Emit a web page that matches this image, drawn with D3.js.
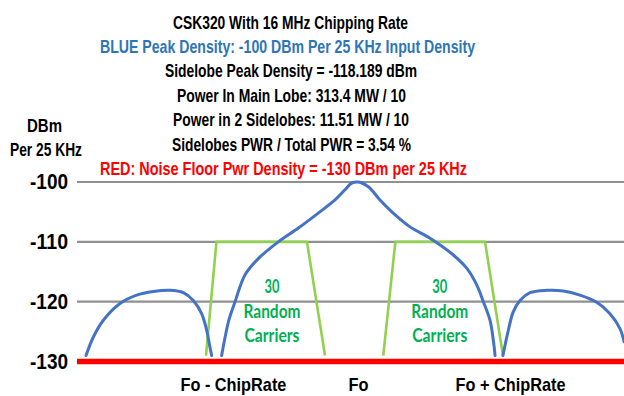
<!DOCTYPE html>
<html><head><meta charset="utf-8">
<script src="https://cdn.jsdelivr.net/npm/d3@7"></script>
<style>
html,body{margin:0;padding:0;background:#fff;}
svg{display:block;}
</style></head>
<body>
<svg id="chart" width="624" height="396"></svg>
<script>
// ---------- DATA ----------
const titleLines = [
  "CSK320 With 16 MHz Chipping Rate",
  "BLUE Peak Density: -100 DBm Per 25 KHz Input Density",
  "Sidelobe Peak Density = -118.189 dBm",
  "Power In Main Lobe: 313.4 MW / 10",
  "Power in 2 Sidelobes: 11.51 MW / 10",
  "Sidelobes PWR / Total PWR = 3.54 %",
  "RED: Noise Floor Pwr Density = -130 DBm per 25 KHz"
];
const yAxisTitle = ["DBm", "Per 25 KHz"];
const yTicks = [-100, -110, -120, -130];
const noiseFloor = -130;
// x in units of chip rate relative to Fo
const xTickValues = [-0.887, 0, 1.078];
const xTickLabels = ["Fo - ChipRate", "Fo", "Fo + ChipRate"];

const leftSidelobeX = [-1.929,-1.877,-1.806,-1.688,-1.570,-1.452,-1.333,-1.239,-1.168,-1.109,-1.073,-1.050,-1.038];
const leftSidelobeY = [-129.0,-125.9,-123.1,-120.3,-118.9,-118.3,-118.1,-118.5,-119.8,-122.0,-124.8,-127.6,-129.0];
const mainLobeX = [-0.967,-0.943,-0.915,-0.872,-0.801,-0.707,-0.565,-0.423,-0.282,-0.163,-0.092,-0.045,0.002,0.073,0.156,0.250,0.369,0.511,0.676,0.771,0.842,0.889,0.936,0.960,0.972];
const mainLobeY = [-129.0,-126.0,-123.0,-120.0,-115.5,-112.8,-110.0,-107.7,-105.2,-103.0,-101.3,-100.2,-100.0,-100.8,-103.0,-105.2,-107.5,-109.4,-112.2,-114.4,-117.2,-120.0,-123.1,-126.5,-129.0];
const rightSidelobeX = [1.028,1.066,1.101,1.149,1.220,1.338,1.456,1.574,1.693,1.787,1.858,1.887];
const rightSidelobeY = [-129.0,-124.8,-121.7,-119.8,-118.5,-118.1,-118.2,-118.9,-120.1,-122.0,-124.5,-126.7];

const carrierBandsX = [[-1.078,-1.004,-0.362,-0.234],[0.179,0.265,0.901,1.028]];
const carrierBandsY = [-129.0,-110,-110,-129.0];
const carrierLabelX = [-0.610, 0.580];
const carrierLabelLines = ["30", "Random", "Carriers"];

// ---------- LAYOUT ----------
const svg = d3.select("#chart");
const plotLeft = 77, plotRight = 624;
const x = d3.scaleLinear().domain([0, 1]).range([358, 499]);
const y = d3.scaleLinear().domain([-130, -100]).range([361.5, 182]);

const narrow = "'Liberation Sans Narrow','Liberation Sans',Arial,sans-serif";

// Titles
const titleStyle = [
  {fill:"#000", w:235, cx:290.5},
  {fill:"#2E75B6", w:375, cx:287.5},
  {fill:"#000", w:252, cx:291},
  {fill:"#000", w:229, cx:291.5},
  {fill:"#000", w:236, cx:291},
  {fill:"#000", w:239, cx:291.5},
  {fill:"#FF0000", w:367, cx:283.5}
];
svg.append("g").selectAll("text").data(titleLines).join("text")
  .attr("x", (d,i)=>titleStyle[i].cx)
  .attr("y", (d,i)=>28.5 + i*24.45)
  .attr("text-anchor","middle")
  .attr("font-family", narrow)
  .attr("font-weight","bold")
  .attr("font-size", 19)
  .attr("fill", (d,i)=>titleStyle[i].fill)
  .attr("textLength", (d,i)=>titleStyle[i].w)
  .attr("lengthAdjust","spacingAndGlyphs")
  .text(d=>d);

// Y axis title
const yTitleStyle = [{cx:44.5,w:35,y:131.5},{cx:46,w:72,y:155.5}];
svg.append("g").selectAll("text").data(yAxisTitle).join("text")
  .attr("x",(d,i)=>yTitleStyle[i].cx)
  .attr("y",(d,i)=>yTitleStyle[i].y)
  .attr("text-anchor","middle")
  .attr("font-family", narrow)
  .attr("font-weight","bold")
  .attr("font-size",19)
  .attr("textLength",(d,i)=>yTitleStyle[i].w)
  .attr("lengthAdjust","spacingAndGlyphs")
  .text(d=>d);

// Gridlines
svg.append("g").selectAll("line").data(yTicks.filter(v=>v!==noiseFloor)).join("line")
  .attr("x1", plotLeft).attr("x2", plotRight)
  .attr("y1", d=>y(d)).attr("y2", d=>y(d))
  .attr("stroke","#909090").attr("stroke-width",2.2);

// Y axis labels via d3 axis
const yAxis = d3.axisLeft(y).tickValues(yTicks).tickSize(0).tickPadding(0).tickFormat(d=>String(d));
const gy = svg.append("g").attr("transform","translate(68,0)").call(yAxis);
gy.select(".domain").remove();
gy.selectAll("text")
  .attr("font-family", narrow)
  .attr("font-weight","bold")
  .attr("font-size",22.5)
  .attr("fill","#000")
  .attr("dy","0.3em")
  .attr("textLength",38)
  .attr("lengthAdjust","spacingAndGlyphs");

// Clip
svg.append("clipPath").attr("id","plotclip").append("rect")
  .attr("x",plotLeft).attr("y",150).attr("width",plotRight-plotLeft).attr("height",230);

// Carrier bands (green)
const bandLine = d3.line().x(d=>x(d[0])).y(d=>y(d[1]));
svg.append("g").selectAll("path").data(carrierBandsX).join("path")
  .attr("d", xs => bandLine(xs.map((v,i)=>[v, carrierBandsY[i]])))
  .attr("fill","none").attr("stroke","#92D050").attr("stroke-width",2.6)
  .attr("stroke-linejoin","round");

// Carrier labels
const carrierWidths = [15, 57, 55];
carrierLabelX.forEach(cx => {
  svg.append("g").selectAll("text").data(carrierLabelLines).join("text")
    .attr("x", x(cx))
    .attr("y", (d,i)=>293 + i*24.5)
    .attr("text-anchor","middle")
    .attr("font-family","Lato,'Open Sans',sans-serif")
    .attr("font-weight","bold")
    .attr("font-size",18)
    .attr("fill","#00B050")
    .attr("textLength",(d,i)=>carrierWidths[i])
    .attr("lengthAdjust","spacingAndGlyphs")
    .text(d=>d);
});

// Blue PSD curve
const curve = d3.line().x(d=>x(d[0])).y(d=>y(d[1])).curve(d3.curveCatmullRom.alpha(0.5));
const lobes = [
  d3.zip(leftSidelobeX, leftSidelobeY),
  d3.zip(mainLobeX, mainLobeY),
  d3.zip(rightSidelobeX, rightSidelobeY)
];
svg.append("g").attr("clip-path","url(#plotclip)").selectAll("path").data(lobes).join("path")
  .attr("d", curve)
  .attr("fill","none").attr("stroke","#4472C4").attr("stroke-width",3)
  .attr("stroke-linecap","round");

// Noise floor (red)
svg.append("line")
  .attr("x1", plotLeft).attr("x2", plotRight)
  .attr("y1", y(noiseFloor)).attr("y2", y(noiseFloor))
  .attr("stroke","#FF0000").attr("stroke-width",5.5);

// X axis labels via d3 axis
const xAxis = d3.axisBottom(x).tickValues(xTickValues).tickSize(0).tickPadding(0)
  .tickFormat((d,i)=>xTickLabels[i]);
const gx = svg.append("g").attr("transform","translate(0,391)").call(xAxis);
gx.select(".domain").remove();
const xLabelW = [106, 20, 110];
gx.selectAll("text")
  .attr("y",0).attr("dy",0)
  .attr("font-family", narrow)
  .attr("font-weight","bold")
  .attr("font-size",19)
  .attr("fill","#000")
  .attr("textLength",(d,i)=>xLabelW[i])
  .attr("lengthAdjust","spacingAndGlyphs");
</script>
</body></html>
